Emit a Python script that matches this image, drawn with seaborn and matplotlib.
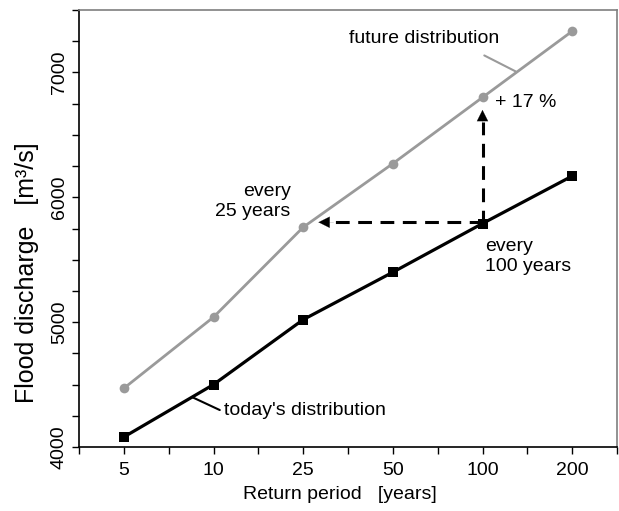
import numpy as np
import pandas as pd
import matplotlib
matplotlib.use("Agg")
import matplotlib.pyplot as plt
import seaborn as sns
from matplotlib.ticker import MultipleLocator

sns.set_style("ticks")
plt.rcParams['font.family'] = ['Liberation Sans', 'DejaVu Sans']
plt.rcParams['text.color'] = 'black'
plt.rcParams['axes.labelcolor'] = 'black'
plt.rcParams['xtick.color'] = 'black'
plt.rcParams['ytick.color'] = 'black'

return_periods = ["5", "10", "25", "50", "100", "200"]
today = [4080, 4500, 5020, 5400, 5790, 6170]
future = [4470, 5040, 5760, 6270, 6800, 7330]

pos = np.arange(len(return_periods))
df = pd.DataFrame({"pos": np.concatenate([pos, pos]),
                   "q": today + future,
                   "series": ["today"] * 6 + ["future"] * 6})

fig = plt.figure(figsize=(6.19, 5.11), dpi=100)
ax = fig.add_axes([79 / 619, 1 - 447 / 511, 538 / 619, 437 / 511])

sns.lineplot(data=df[df.series == "future"], x="pos", y="q", color="#9a9a9a",
             lw=2.0, marker="o", markersize=7, markeredgewidth=0, ax=ax)
sns.lineplot(data=df[df.series == "today"], x="pos", y="q", color="black",
             lw=2.3, marker="s", markersize=7.5, markeredgewidth=0, ax=ax)

ax.set_xlim(-0.5, 5.5)
ax.set_ylim(4000, 7500)
ax.set_xticks(pos)
ax.set_xticklabels(return_periods, fontsize=14)
ax.xaxis.set_minor_locator(MultipleLocator(0.5))
ax.set_yticks([4000, 5000, 6000, 7000])
ax.set_yticklabels(["4000", "5000", "6000", "7000"], fontsize=14, rotation=90, va="center")
ax.yaxis.set_minor_locator(MultipleLocator(250))
ax.tick_params(which="both", direction="out", length=5, width=1, color="black")
ax.tick_params(axis="y", pad=3)
ax.tick_params(axis="x", pad=6)

for s in ["left", "bottom"]:
    ax.spines[s].set_color("black")
    ax.spines[s].set_linewidth(1.2)
for s in ["top", "right"]:
    ax.spines[s].set_visible(True)
    ax.spines[s].set_color("#7f7f7f")
    ax.spines[s].set_linewidth(1.2)

ax.set_xlabel("Return period   [years]", fontsize=14)
ax.set_ylabel("Flood discharge   [m³/s]", fontsize=18)
ax.xaxis.set_label_coords(0.485, -0.09)
ax.yaxis.set_label_coords(-0.074, 0.40)

# dashed arrows
i100 = return_periods.index("100")
i25 = return_periods.index("25")
y0 = today[i100]
y_h = 5800
x_tip = i25 + 0.17
ax.plot([i100, x_tip + 0.12], [y_h, y_h], color="black", lw=2.2,
        dashes=(4.5, 2.8), zorder=2)
ax.annotate("", xy=(x_tip, y_h), xytext=(x_tip + 0.17, y_h),
            arrowprops=dict(arrowstyle="-|>", color="black", lw=0.1,
                            mutation_scale=20, shrinkA=0, shrinkB=0))
y_tip = 6700
ax.plot([i100, i100], [y0, y_tip - 100], color="black", lw=2.2,
        dashes=(4.5, 2.8), zorder=2)
ax.annotate("", xy=(i100, y_tip), xytext=(i100, y_tip - 130),
            arrowprops=dict(arrowstyle="-|>", color="black", lw=0.1,
                            mutation_scale=20, shrinkA=0, shrinkB=0))

# texts
ax.text(i100 + 0.14, 6760, "+ 17 %", fontsize=14, va="center", ha="left")
ax.text(i25 - 0.14, 5964, "every\n25 years", fontsize=14, ha="right", va="center",
        multialignment="right", linespacing=1.25)
ax.text(i100 + 0.03, 5524, "every\n100 years", fontsize=14, ha="left", va="center",
        linespacing=1.25)
ax.text(2.51, 7272, "future distribution", fontsize=14, ha="left", va="center")
ax.plot([4.02, 4.37], [7136, 7008], color="#9a9a9a", lw=1.5)
ax.text(1.12, 4296, "today's distribution", fontsize=14, ha="left", va="center")
ax.plot([0.76, 1.07], [4400, 4296], color="black", lw=1.5)

fig.savefig("out.png", dpi=100)
